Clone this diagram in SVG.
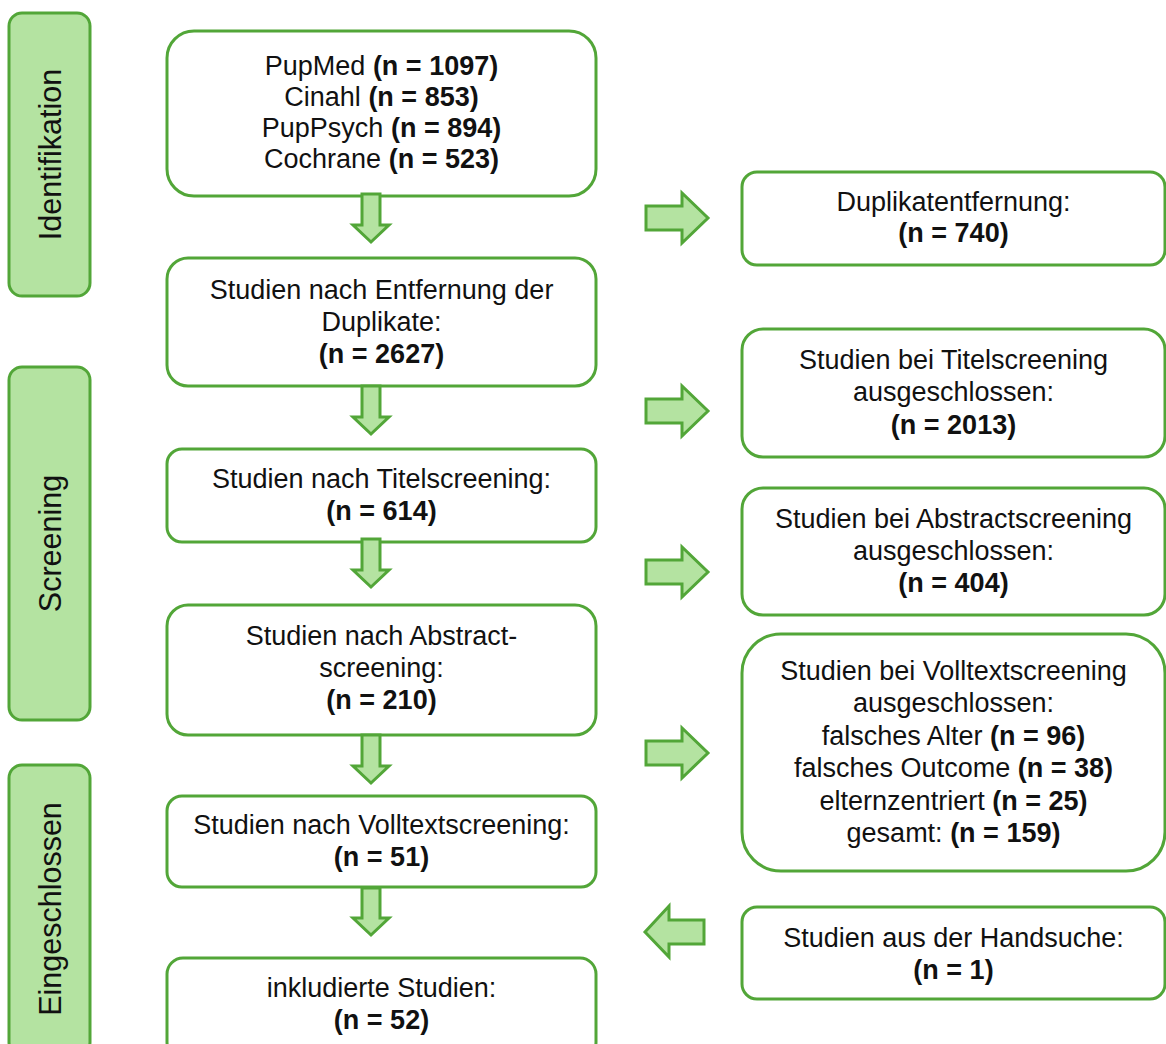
<svg xmlns="http://www.w3.org/2000/svg" width="1166" height="1044" viewBox="0 0 1166 1044">
<style>
.box{fill:#ffffff;stroke:#52A638;stroke-width:3}
.lab{fill:#B4E3A1;stroke:#52A638;stroke-width:3}
.arr{fill:#B4E3A1;stroke:#52A638;stroke-width:3;stroke-linejoin:miter}
text{font-family:"Liberation Sans",Arial,sans-serif;font-size:27px;fill:#111111;text-anchor:middle}
.lt{font-size:30.5px}
.b{font-weight:bold}
</style>
<rect width="1166" height="1044" fill="#ffffff"/>

<g id="label-identifikation">
<rect class="lab" x="9" y="13" width="81" height="283" rx="13"/>
<text class="lt" transform="translate(61,154.5) rotate(-90)">Identifikation</text>
</g>
<g id="label-screening">
<rect class="lab" x="9" y="367" width="81" height="353" rx="13"/>
<text class="lt" transform="translate(61,543.5) rotate(-90)">Screening</text>
</g>
<g id="label-eingeschlossen">
<rect class="lab" x="9" y="765" width="81" height="290" rx="13"/>
<text class="lt" transform="translate(61,909) rotate(-90)">Eingeschlossen</text>
</g>

<g id="box-datenbanken">
<rect class="box" x="167" y="31" width="429" height="165" rx="27"/>
<text x="381.5" y="75">PupMed <tspan class="b">(n = 1097)</tspan></text>
<text x="381.5" y="106">Cinahl <tspan class="b">(n = 853)</tspan></text>
<text x="381.5" y="137">PupPsych <tspan class="b">(n = 894)</tspan></text>
<text x="381.5" y="168">Cochrane <tspan class="b">(n = 523)</tspan></text>
</g>
<g id="box-nach-duplikate">
<rect class="box" x="167" y="258" width="429" height="128" rx="21"/>
<text x="381.5" y="299">Studien nach Entfernung der</text>
<text x="381.5" y="331">Duplikate:</text>
<text x="381.5" y="363" class="b">(n = 2627)</text>
</g>
<g id="box-nach-titel">
<rect class="box" x="167" y="449" width="429" height="93" rx="15"/>
<text x="381.5" y="488">Studien nach Titelscreening:</text>
<text x="381.5" y="520" class="b">(n = 614)</text>
</g>
<g id="box-nach-abstract">
<rect class="box" x="167" y="605" width="429" height="130" rx="21"/>
<text x="381.5" y="645">Studien nach Abstract-</text>
<text x="381.5" y="677">screening:</text>
<text x="381.5" y="709" class="b">(n = 210)</text>
</g>
<g id="box-nach-volltext">
<rect class="box" x="167" y="796" width="429" height="91" rx="15"/>
<text x="381.5" y="834">Studien nach Volltextscreening:</text>
<text x="381.5" y="866" class="b">(n = 51)</text>
</g>
<g id="box-inkludiert">
<rect class="box" x="167" y="958" width="429" height="100" rx="16"/>
<text x="381.5" y="997">inkludierte Studien:</text>
<text x="381.5" y="1029" class="b">(n = 52)</text>
</g>

<g id="box-duplikatentfernung">
<rect class="box" x="742" y="172" width="423" height="93" rx="15"/>
<text x="953.5" y="211">Duplikatentfernung:</text>
<text x="953.5" y="242" class="b">(n = 740)</text>
</g>
<g id="box-excl-titel">
<rect class="box" x="742" y="329" width="423" height="128" rx="21"/>
<text x="953.5" y="369">Studien bei Titelscreening</text>
<text x="953.5" y="401">ausgeschlossen:</text>
<text x="953.5" y="434" class="b">(n = 2013)</text>
</g>
<g id="box-excl-abstract">
<rect class="box" x="742" y="488" width="423" height="127" rx="21"/>
<text x="953.5" y="528">Studien bei Abstractscreening</text>
<text x="953.5" y="560">ausgeschlossen:</text>
<text x="953.5" y="592" class="b">(n = 404)</text>
</g>
<g id="box-excl-volltext">
<rect class="box" x="742" y="634" width="423" height="237" rx="39"/>
<text x="953.5" y="680">Studien bei Volltextscreening</text>
<text x="953.5" y="712">ausgeschlossen:</text>
<text x="953.5" y="745">falsches Alter <tspan class="b">(n = 96)</tspan></text>
<text x="953.5" y="777">falsches Outcome <tspan class="b">(n = 38)</tspan></text>
<text x="953.5" y="810">elternzentriert <tspan class="b">(n = 25)</tspan></text>
<text x="953.5" y="842">gesamt: <tspan class="b">(n = 159)</tspan></text>
</g>
<g id="box-handsuche">
<rect class="box" x="742" y="907" width="423" height="92" rx="15"/>
<text x="953.5" y="947">Studien aus der Handsuche:</text>
<text x="953.5" y="979" class="b">(n = 1)</text>
</g>

<g id="connectors">
<path class="arr" d="M362,194 H380 V225 H389 L371,242 L353,225 H362 Z"/>
<path class="arr" d="M362,386 H380 V417 H389 L371,434 L353,417 H362 Z"/>
<path class="arr" d="M362,539 H380 V570 H389 L371,587 L353,570 H362 Z"/>
<path class="arr" d="M362,735 H380 V766 H389 L371,783 L353,766 H362 Z"/>
<path class="arr" d="M362,888 H380 V918 H389 L371,935 L353,918 H362 Z"/>
<path class="arr" d="M646,206 H682 V193 L708,218 L682,243 V230 H646 Z"/>
<path class="arr" d="M646,399 H682 V386 L708,411 L682,436 V423 H646 Z"/>
<path class="arr" d="M646,560 H682 V547 L708,572 L682,597 V584 H646 Z"/>
<path class="arr" d="M646,741 H682 V728 L708,753 L682,778 V765 H646 Z"/>
<path class="arr" d="M704,920 H669 V906 L645,932 L669,957 V944 H704 Z"/>
</g>
</svg>
